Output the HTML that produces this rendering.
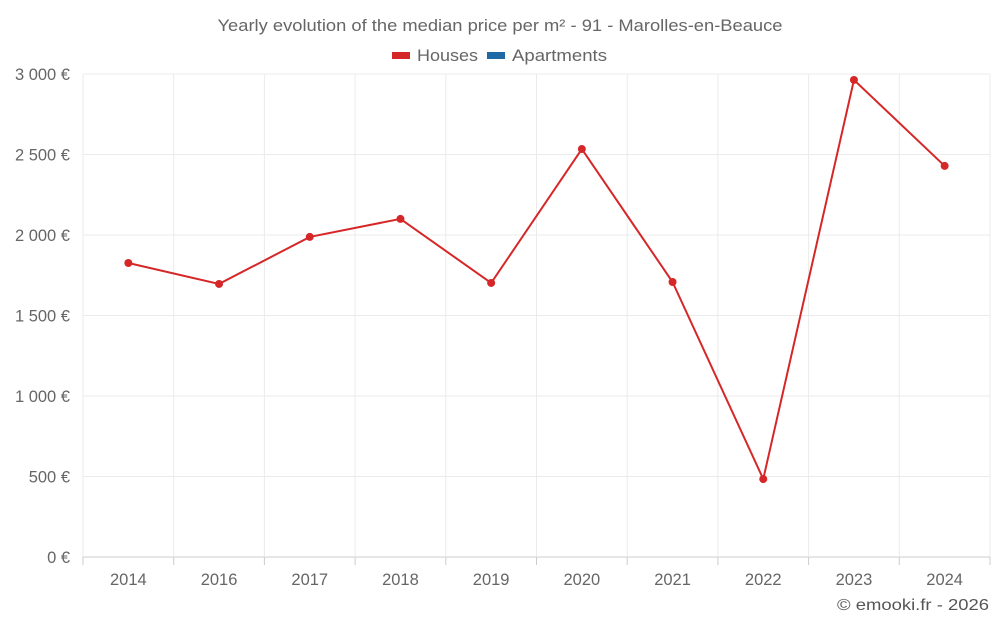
<!DOCTYPE html>
<html><head><meta charset="utf-8"><style>
body{margin:0;background:#fff;font-family:"Liberation Sans",sans-serif;}
svg text{font-family:"Liberation Sans",sans-serif;}
</style></head><body>
<svg id="chart" width="1000" height="625">
<text x="500" y="31" text-anchor="middle" font-size="17" fill="#666" textLength="565" lengthAdjust="spacingAndGlyphs">Yearly evolution of the median price per m² - 91 - Marolles-en-Beauce</text>
<g>
<rect x="392" y="52" width="18" height="7" fill="#d62728"/>
<text x="417" y="61" font-size="17" fill="#666" textLength="61" lengthAdjust="spacingAndGlyphs">Houses</text>
<rect x="487" y="52" width="18" height="7" fill="#1f6aa5"/>
<text x="512" y="61" font-size="17" fill="#666" textLength="95" lengthAdjust="spacingAndGlyphs">Apartments</text>
</g>
<g id="grid"></g><g id="axes"></g><g id="series"></g>
<text x="989" y="610" text-anchor="end" font-size="16" fill="#555" textLength="152" lengthAdjust="spacingAndGlyphs">© emooki.fr - 2026</text>
</svg>
<script>
const categories=["2014","2016","2017","2018","2019","2020","2021","2022","2023","2024"];
const houses=[1826,1696,1988,2100,1702,2534,1708,484,2963,2429];
const yTicks=[0,500,1000,1500,2000,2500,3000];
const yTickLabels=["0 €","500 €","1 000 €","1 500 €","2 000 €","2 500 €","3 000 €"];
const L=83,R=990,T=74,B=557,YMAX=3000;
const NS="http://www.w3.org/2000/svg";
function y(v){return B-(v/YMAX)*(B-T);}
function x(i){const bw=(R-L)/categories.length;return L+bw*(i+0.5);}
function mk(tag,attrs,parent){const e=document.createElementNS(NS,tag);for(const k in attrs)e.setAttribute(k,attrs[k]);parent.appendChild(e);return e;}
const grid=document.getElementById('grid'),axes=document.getElementById('axes'),series=document.getElementById('series');
yTicks.forEach((t,i)=>{
 const l=mk('line',{x1:L,x2:R,y1:y(t),y2:y(t),stroke:i==0?'#ccc':'#ebebeb','stroke-width':1},grid);
 
 
 const tx=mk('text',{x:70,y:y(t)+6,'text-anchor':'end','font-size':16.5,fill:'#666'},axes);
 tx.textContent=yTickLabels[i];
 
 
});
for(let i=0;i<=categories.length;i++){
 const bx=L+(R-L)/categories.length*i;
 const l=mk('line',{x1:bx,x2:bx,y1:T,y2:B,stroke:'#ebebeb','stroke-width':1},grid);
 
 
 const tk=mk('line',{x1:bx,x2:bx,y1:B,y2:B+8,stroke:'#ccc'},axes);
 
 
}
categories.forEach((c,i)=>{
 const tx=mk('text',{x:x(i),y:585,'text-anchor':'middle','font-size':16.5,fill:'#666'},axes);
 tx.textContent=c;
 
 
});
const pl=mk('polyline',{points:houses.map((v,i)=>x(i)+','+y(v)).join(' '),fill:'none',stroke:'#d62728','stroke-width':2},series);


houses.forEach((v,i)=>{
 const c=mk('circle',{cx:x(i),cy:y(v),r:4,fill:'#d62728'},series);
 
 
});
</script>
</body></html>
